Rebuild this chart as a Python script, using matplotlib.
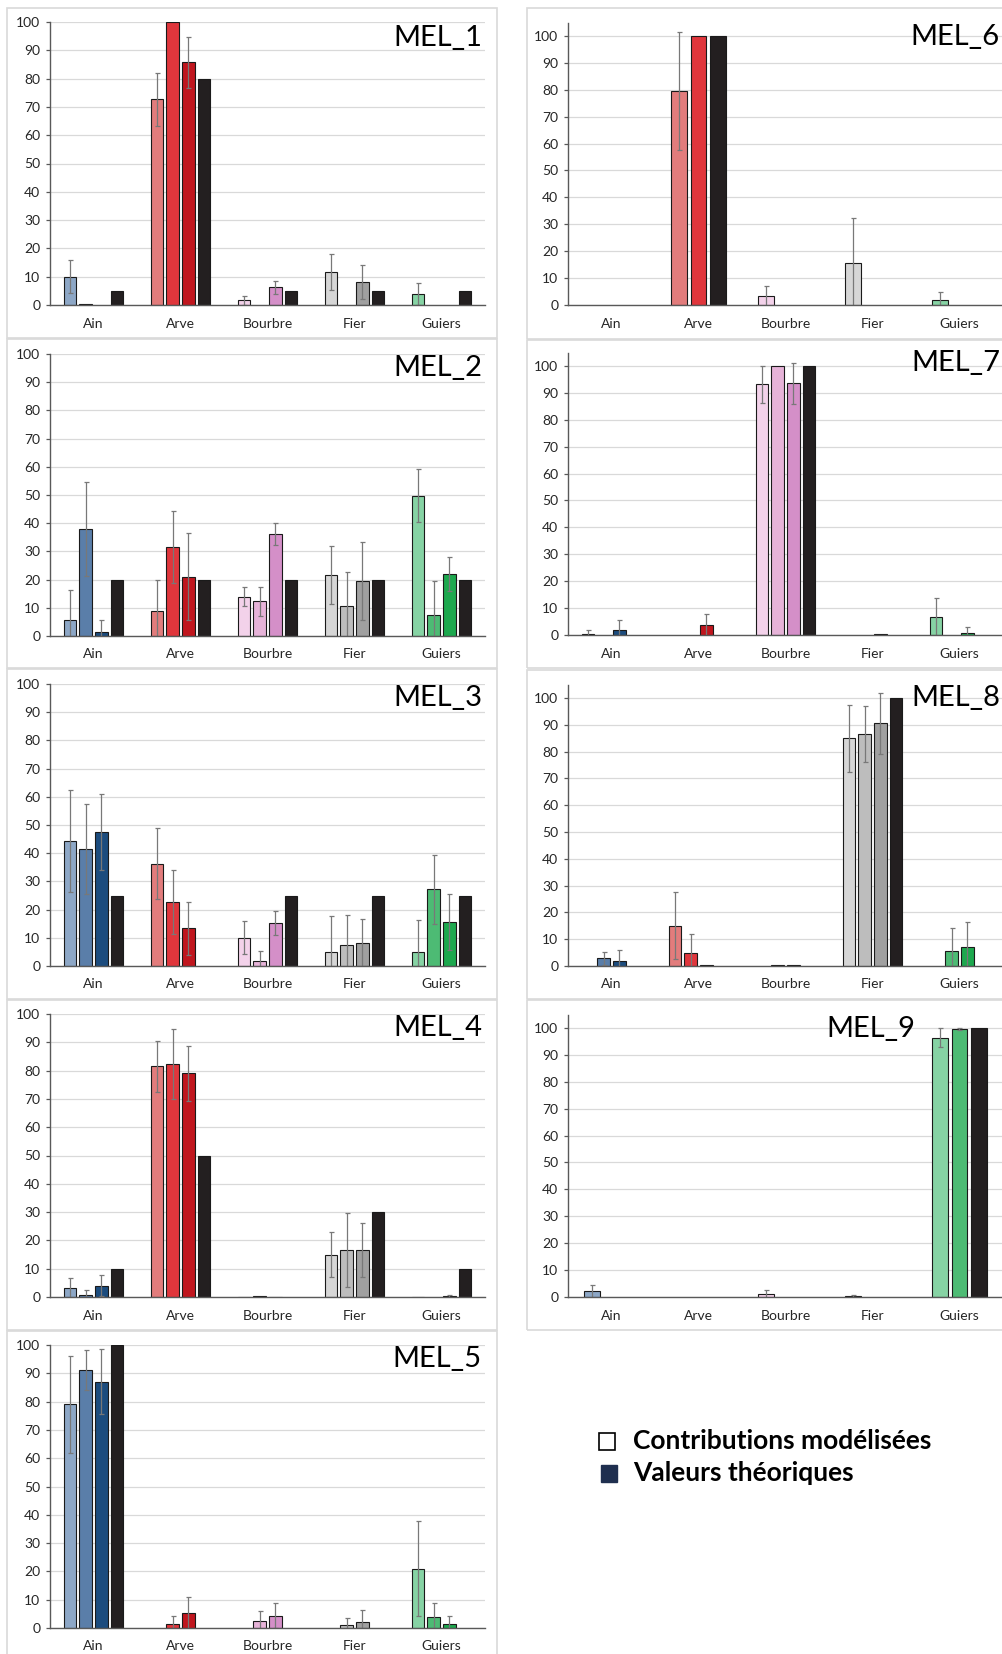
import matplotlib.pyplot as plt
from matplotlib.patches import Rectangle

plt.rcParams['font.family'] = ['Lato', 'DejaVu Sans']

rivers = ["Ain", "Arve", "Bourbre", "Fier", "Guiers"]

# light / medium / dark shade for each river
ain_colors = ["#8DA7C6", "#5A7EA9", "#1C4C7E"]
arve_colors = ["#E27C7C", "#E0363C", "#C0161E"]
bourbre_colors = ["#F3D2EA", "#E6B3D8", "#D48FC8"]
fier_colors = ["#D6D6D6", "#BDBDBD", "#A0A0A0"]
guiers_colors = ["#86D3A4", "#4DBB74", "#1DA84E"]
theo_color = "#231F20"

# rows = modelled series (then last row = theoretical), cols = rivers
mel1_vals = [[10.0, 72.7, 1.7, 11.6, 3.8],
             [0.3, 100.0, 0, 0, 0],
             [0, 85.7, 6.2, 8.0, 0],
             [5, 80, 5, 5, 5]]
mel1_errs = [[5.8, 9.3, 1.6, 6.3, 3.9],
             [0, 0, 0, 0, 0],
             [0, 9.0, 2.3, 6.0, 0]]

mel2_vals = [[5.7, 9.0, 14.0, 21.6, 49.8],
             [38.0, 31.5, 12.3, 10.7, 7.5],
             [1.5, 21.0, 36.3, 19.5, 22.0],
             [20, 20, 20, 20, 20]]
mel2_errs = [[10.6, 11.0, 3.5, 10.2, 9.3],
             [16.6, 12.7, 5.2, 12.0, 12.0],
             [4.0, 15.5, 3.9, 13.8, 5.9]]

mel3_vals = [[44.3, 36.2, 10.1, 4.9, 4.9],
             [41.4, 22.6, 1.6, 7.3, 27.2],
             [47.6, 13.4, 15.2, 8.0, 15.6],
             [25, 0, 25, 25, 25]]
mel3_errs = [[18.0, 12.6, 5.7, 12.7, 11.4],
             [15.9, 11.3, 3.7, 10.9, 12.2],
             [13.4, 9.4, 4.2, 8.7, 10.1]]

mel4_vals = [[3.2, 81.6, 0.1, 15.0, 0.1],
             [0.8, 82.3, 0.2, 16.6, 0],
             [4.0, 79.0, 0.1, 16.6, 0.3],
             [10, 50, 0, 30, 10]]
mel4_errs = [[3.5, 9.0, 0, 7.9, 0],
             [1.6, 12.5, 0, 13.0, 0],
             [3.7, 9.6, 0, 9.4, 0.5]]

mel5_vals = [[79.0, 0, 0, 0, 21.0],
             [91.2, 1.5, 2.5, 1.1, 4.0],
             [87.0, 5.4, 4.4, 2.0, 1.3],
             [100, 0, 0, 0, 0]]
mel5_errs = [[17.0, 0, 0, 0, 16.8],
             [7.0, 2.9, 3.5, 2.4, 5.0],
             [11.5, 5.7, 4.3, 4.4, 2.9]]

mel6_vals = [[0, 79.5, 3.5, 15.5, 1.7],
             [0, 100.0, 0, 0, 0],
             [0, 100, 0, 0, 0]]
mel6_errs = [[0, 22.0, 3.7, 16.8, 3.1],
             [0, 0, 0, 0, 0]]

mel7_vals = [[0.5, 0, 93.2, 0, 6.6],
             [0, 0, 100.0, 0, 0],
             [2.0, 3.6, 93.5, 0.2, 0.8],
             [0, 0, 100, 0, 0]]
mel7_errs = [[1.5, 0, 6.8, 0, 7.0],
             [0, 0, 0, 0, 0],
             [3.6, 4.2, 7.7, 0, 2.3]]

mel8_vals = [[0, 15.0, 0, 85.0, 0],
             [2.8, 4.8, 0.2, 86.5, 5.5],
             [1.8, 0.3, 0.4, 90.5, 7.0],
             [0, 0, 0, 100, 0]]
mel8_errs = [[0, 12.5, 0, 12.5, 0],
             [2.5, 7.2, 0, 10.5, 8.5],
             [4.2, 0, 0, 11.5, 9.5]]

mel9_vals = [[2.1, 0, 1.2, 0.4, 96.3],
             [0, 0, 0, 0, 99.5],
             [0, 0, 0, 0, 100]]
mel9_errs = [[2.5, 0, 1.4, 0.4, 3.5],
             [0, 0, 0, 0, 0.4]]

names = ["MEL_1", "MEL_2", "MEL_3", "MEL_4", "MEL_5",
         "MEL_6", "MEL_7", "MEL_8", "MEL_9"]
all_vals = [mel1_vals, mel2_vals, mel3_vals, mel4_vals, mel5_vals,
            mel6_vals, mel7_vals, mel8_vals, mel9_vals]
all_errs = [mel1_errs, mel2_errs, mel3_errs, mel4_errs, mel5_errs,
            mel6_errs, mel7_errs, mel8_errs, mel9_errs]

shades = [ain_colors, arve_colors, bourbre_colors, fier_colors, guiers_colors]

W, H = 1003, 1654
fig = plt.figure(figsize=(W / 100, H / 100), dpi=100)

# layout in pixels: (axes left, axes top, axes bottom, ymax, frame x0, frame x1, frame y0, frame y1)
layout = [
    (50, 22, 305, 100, 7, 497, 8, 338),
    (50, 354, 636, 100, 7, 497, 339, 668),
    (50, 684, 966, 100, 7, 497, 669, 999),
    (50, 1014, 1297, 100, 7, 497, 1000, 1330),
    (50, 1345, 1628, 100, 7, 497, 1331, 1670),
    (568, 22.5, 305, 105, 527, 1020, 8, 339),
    (568, 352.5, 635, 105, 527, 1020, 340, 668),
    (568, 684.5, 966, 105, 527, 1020, 670, 999),
    (568, 1014.5, 1297, 105, 527, 1020, 1000, 1330),
]
title_pos = [(0.993, 0.945), (0.993, 0.95), (0.993, 0.95), (0.993, 0.95), (0.993, 0.95),
             (0.993, 0.949), (0.993, 0.963), (0.993, 0.952), (0.798, 0.949)]

for k in range(9):
    left, top, bottom, ymax, fx0, fx1, fy0, fy1 = layout[k]
    fig.patches.append(Rectangle((fx0 / W, 1 - fy1 / H), (fx1 - fx0) / W, (fy1 - fy0) / H,
                                 transform=fig.transFigure, fill=False,
                                 edgecolor="#D9D9D9", linewidth=1.2, zorder=0))
    ax = fig.add_axes([left / W, 1 - bottom / H, 435 / W, (bottom - top) / H])
    vals = all_vals[k]
    errs = all_errs[k]
    n = len(vals)
    if n == 4:
        step, width = 0.18, 0.145
    else:
        step, width = 0.222, 0.18
    for s in range(n):
        off = (s - (n - 1) / 2) * step
        for c in range(5):
            v = vals[s][c]
            if v == 0:
                continue
            if s == n - 1:
                col = theo_color
                e = 0
            else:
                col = shades[c][s]
                e = errs[s][c]
            ax.bar(c + off, v, width=width, color=col, edgecolor="#1A1A1A",
                   linewidth=0.8, zorder=3)
            if e > 0:
                ax.errorbar(c + off, v, yerr=e, fmt="none", ecolor="#787878",
                            elinewidth=0.9, capsize=1.8, capthick=0.9, zorder=4)
    ax.set_xlim(-0.5, 4.5)
    ax.set_ylim(0, ymax)
    ax.set_yticks(range(0, 101, 10))
    ax.set_xticks(range(5))
    ax.set_xticklabels(rivers)
    ax.grid(axis="y", color="#D9D9D9", linewidth=0.9, zorder=0)
    ax.set_axisbelow(True)
    for sp in ["top", "right"]:
        ax.spines[sp].set_visible(False)
    for sp in ["left", "bottom"]:
        ax.spines[sp].set_color("#595959")
        ax.spines[sp].set_linewidth(1.0)
        ax.spines[sp].set_zorder(5)
    ax.tick_params(axis="y", length=3, width=0.9, color="#595959", pad=4,
                   labelsize=10, labelcolor="#262626")
    ax.tick_params(axis="x", length=0, pad=9, labelsize=10, labelcolor="#262626")
    ax.text(title_pos[k][0], title_pos[k][1], names[k], transform=ax.transAxes,
            ha="right", va="center", fontsize=21, color="black", zorder=6)

# legend
fig.patches.append(Rectangle((599 / W, 1 - 1450 / H), 16 / W, 17 / H, transform=fig.transFigure,
                             facecolor="white", edgecolor="black", linewidth=1.2))
fig.patches.append(Rectangle((601 / W, 1 - 1482 / H), 16 / W, 17 / H, transform=fig.transFigure,
                             facecolor="#1F2F4F", edgecolor="#1F2F4F", linewidth=1.0))
fig.text(633 / W, 1 - 1441 / H, "Contributions modélisées", fontsize=19,
         fontweight="bold", va="center", ha="left")
fig.text(633 / W, 1 - 1473 / H, "Valeurs théoriques", fontsize=19,
         fontweight="bold", va="center", ha="left")

fig.savefig("out.png", dpi=100)
